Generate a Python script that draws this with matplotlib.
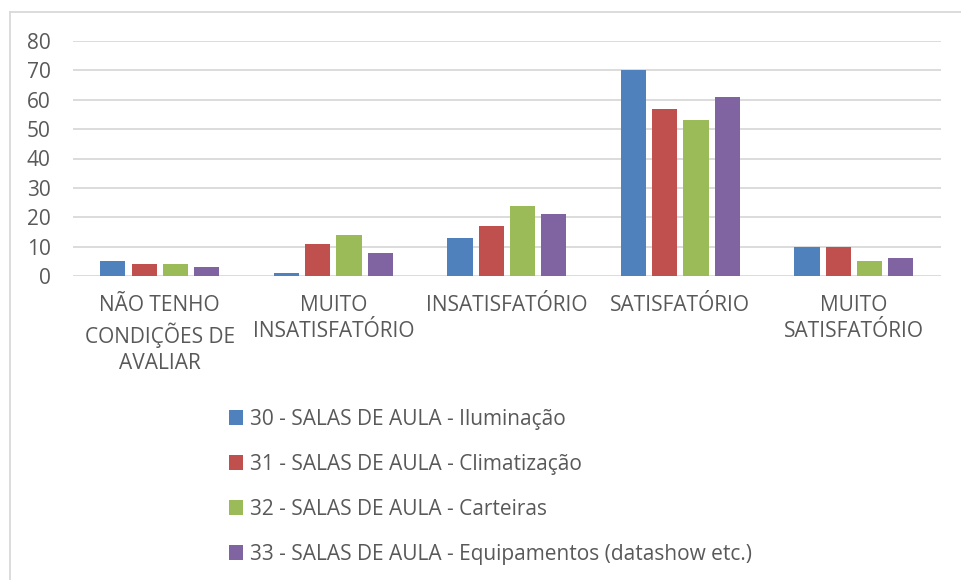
import matplotlib.pyplot as plt
import numpy as np
from matplotlib.lines import Line2D

# Dados
categorias = ['NÃO TENHO\nCONDIÇÕES DE\nAVALIAR', 'MUITO\nINSATISFATÓRIO',
              'INSATISFATÓRIO', 'SATISFATÓRIO', 'MUITO\nSATISFATÓRIO']
series = ['30 - SALAS DE AULA - Iluminação',
          '31 - SALAS DE AULA - Climatização',
          '32 - SALAS DE AULA - Carteiras',
          '33 - SALAS DE AULA - Equipamentos (datashow etc.)']
iluminacao = [5, 1, 13, 70, 10]
climatizacao = [4, 11, 17, 57, 10]
carteiras = [4, 14, 24, 53, 5]
equipamentos = [3, 8, 21, 61, 6]
valores = [iluminacao, climatizacao, carteiras, equipamentos]
cores = ['#4F81BD', '#C0504D', '#9BBB59', '#8064A2']

plt.rcParams['font.family'] = ['Open Sans', 'DejaVu Sans']
cor_texto = '#595959'
cor_grade = '#D9D9D9'
fs = 15

fig = plt.figure(figsize=(9.62, 5.8), dpi=100)
ax = fig.add_axes([73/962, 1-276/580, (940.7-73)/962, (276-41)/580])

x = np.arange(len(categorias))
passo = 0.18
largura = 0.145
barras = []
for k, (vals, cor) in enumerate(zip(valores, cores)):
    b = ax.bar(x + (k-1.5)*passo, vals, largura, color=cor, zorder=3)
    barras.append(b)

ax.set_xlim(-0.5, len(categorias)-0.5)
ax.set_ylim(0, 80)
ax.set_yticks(range(0, 81, 10))
ax.yaxis.grid(True, color=cor_grade, linewidth=1.3, zorder=0)
for s in ax.spines.values():
    s.set_visible(False)
ax.set_xticks(x)
ax.set_xticklabels(categorias, fontsize=fs, color=cor_texto, linespacing=1.31)
ax.tick_params(axis='both', length=0, labelsize=fs, labelcolor=cor_texto)
ax.tick_params(axis='x', pad=14)
ax.tick_params(axis='y', pad=16)

# Legenda
fig.legend(barras, series, loc='upper left', bbox_to_anchor=(210/962, 1-390/580),
           frameon=False, fontsize=fs, labelcolor=cor_texto, labelspacing=1.15,
           handlelength=0.7, handleheight=0.7, handletextpad=0.3)

# Borda do gráfico
fig.add_artist(Line2D([10/962, 10/962], [0, 1-12/580], color=cor_grade, linewidth=1.3))
fig.add_artist(Line2D([10/962, 1], [1-12/580, 1-12/580], color=cor_grade, linewidth=1.3))

fig.savefig('out.png', dpi=100)
